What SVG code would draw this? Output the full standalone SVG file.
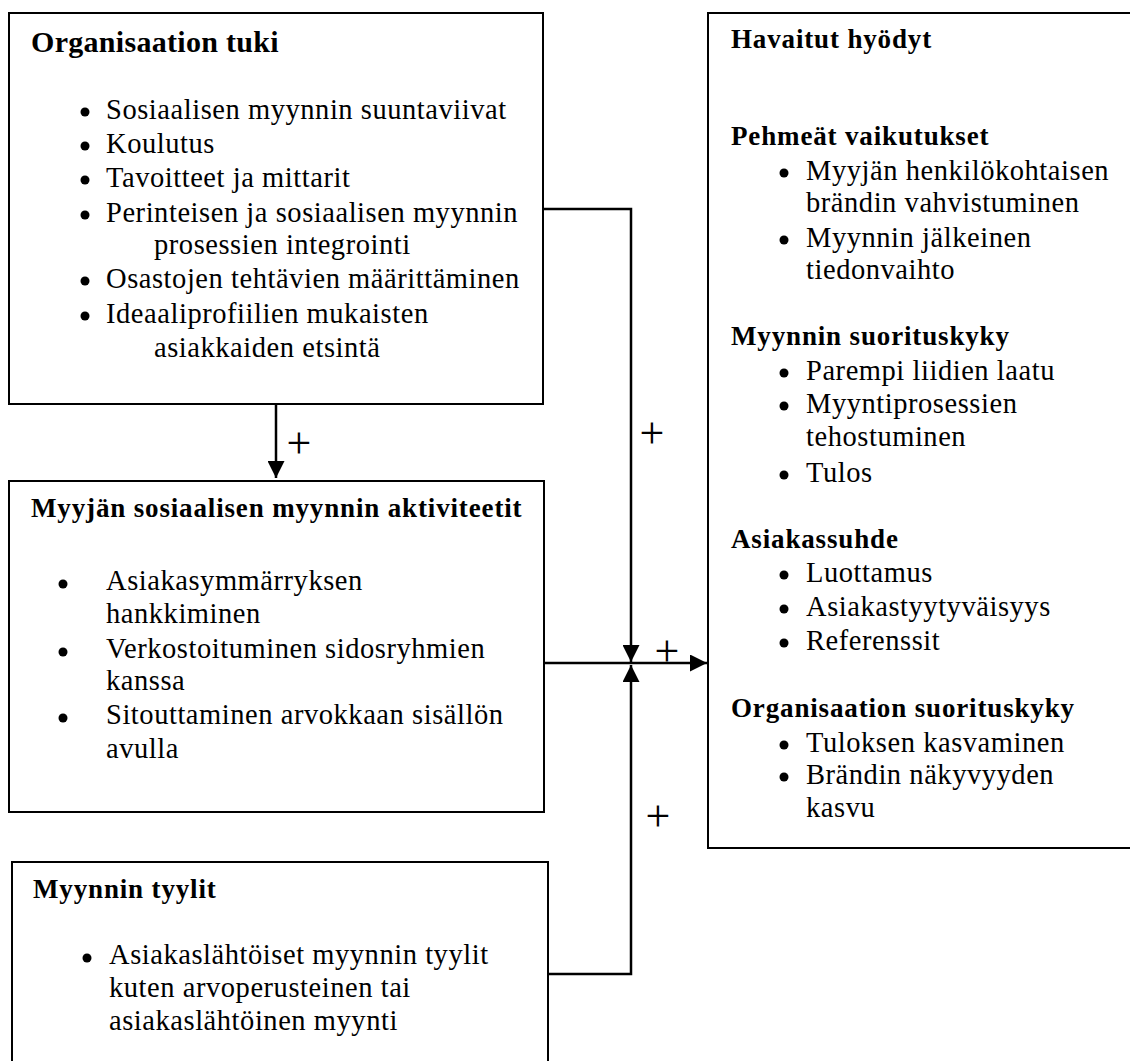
<svg xmlns="http://www.w3.org/2000/svg" width="1130" height="1061" viewBox="0 0 1130 1061">
<style>
  .box { fill: #fff; stroke: #000; stroke-width: 2; }
  .t { font-family: "Liberation Serif", serif; font-size: 28.5px; letter-spacing: 0.55px; fill: #000; }
  .h { font-family: "Liberation Serif", serif; font-size: 27px; font-weight: bold; letter-spacing: 0.85px; fill: #000; }
  .h1 { font-family: "Liberation Serif", serif; font-size: 30px; font-weight: bold; letter-spacing: 0.3px; fill: #000; }
  .plus { font-family: "Liberation Serif", serif; font-size: 44px; fill: #000; text-anchor: middle; }
  .con { fill: none; stroke: #000; stroke-width: 2.5; }
  .b { fill: #000; }
</style>
<defs>
  <marker id="arr" markerUnits="userSpaceOnUse" markerWidth="17" markerHeight="17" viewBox="0 0 16 16" refX="16" refY="8" orient="auto">
    <path d="M0,0 L16,8 L0,16 z" fill="#000"/>
  </marker>
</defs>
<rect width="1130" height="1061" fill="#fff"/>

<g id="connectors">
  <path class="con" d="M276,404 V478" marker-end="url(#arr)"/>
  <path class="con" d="M543,209 H631 V662" marker-end="url(#arr)"/>
  <path class="con" d="M544,663 H707" marker-end="url(#arr)"/>
  <path class="con" d="M548,974 H631 V665" marker-end="url(#arr)"/>
  <text class="plus" x="299" y="458">+</text>
  <text class="plus" x="652" y="448">+</text>
  <text class="plus" x="667" y="666">+</text>
  <text class="plus" x="658" y="831">+</text>
</g>

<g id="node-organisaation-tuki">
  <rect class="box" x="9" y="13" width="534" height="391"/>
  <text class="h1" x="31" y="52">Organisaation tuki</text>
  <circle class="b" cx="85" cy="112" r="4.5"/>
  <text class="t" x="106" y="119">Sosiaalisen myynnin suuntaviivat</text>
  <circle class="b" cx="85" cy="146" r="4.5"/>
  <text class="t" x="106" y="153">Koulutus</text>
  <circle class="b" cx="85" cy="180" r="4.5"/>
  <text class="t" x="106" y="187">Tavoitteet ja mittarit</text>
  <circle class="b" cx="85" cy="215" r="4.5"/>
  <text class="t" x="106" y="222">Perinteisen ja sosiaalisen myynnin</text>
  <text class="t" x="154" y="254">prosessien integrointi</text>
  <circle class="b" cx="85" cy="281" r="4.5"/>
  <text class="t" x="106" y="288">Osastojen tehtävien määrittäminen</text>
  <circle class="b" cx="85" cy="316" r="4.5"/>
  <text class="t" x="106" y="323">Ideaaliprofiilien mukaisten</text>
  <text class="t" x="154" y="357">asiakkaiden etsintä</text>
</g>

<g id="node-aktiviteetit">
  <rect class="box" x="9" y="481" width="535" height="331"/>
  <text class="h" x="31" y="517">Myyjän sosiaalisen myynnin aktiviteetit</text>
  <circle class="b" cx="63" cy="584" r="4.5"/>
  <text class="t" x="106" y="590">Asiakasymmärryksen</text>
  <text class="t" x="106" y="623">hankkiminen</text>
  <circle class="b" cx="63" cy="652" r="4.5"/>
  <text class="t" x="106" y="658">Verkostoituminen sidosryhmien</text>
  <text class="t" x="106" y="690">kanssa</text>
  <circle class="b" cx="63" cy="718" r="4.5"/>
  <text class="t" x="106" y="724">Sitouttaminen arvokkaan sisällön</text>
  <text class="t" x="106" y="758">avulla</text>
</g>

<g id="node-myynnin-tyylit">
  <rect class="box" x="12" y="862" width="536" height="220"/>
  <text class="h" x="33" y="898">Myynnin tyylit</text>
  <circle class="b" cx="87" cy="958" r="4.5"/>
  <text class="t" x="109" y="964">Asiakaslähtöiset myynnin tyylit</text>
  <text class="t" x="109" y="997">kuten arvoperusteinen tai</text>
  <text class="t" x="109" y="1030">asiakaslähtöinen myynti</text>
</g>

<g id="node-havaitut-hyodyt">
  <rect class="box" x="708" y="13" width="440" height="835"/>
  <text class="h" x="731" y="48">Havaitut hyödyt</text>
  <text class="h" x="731" y="145">Pehmeät vaikutukset</text>
  <circle class="b" cx="784" cy="173" r="4.5"/>
  <text class="t" x="806" y="180">Myyjän henkilökohtaisen</text>
  <text class="t" x="806" y="212">brändin vahvistuminen</text>
  <circle class="b" cx="784" cy="240" r="4.5"/>
  <text class="t" x="806" y="247">Myynnin jälkeinen</text>
  <text class="t" x="806" y="279">tiedonvaihto</text>
  <text class="h" x="731" y="345">Myynnin suorituskyky</text>
  <circle class="b" cx="784" cy="373" r="4.5"/>
  <text class="t" x="806" y="380">Parempi liidien laatu</text>
  <circle class="b" cx="784" cy="406" r="4.5"/>
  <text class="t" x="806" y="413">Myyntiprosessien</text>
  <text class="t" x="806" y="446">tehostuminen</text>
  <circle class="b" cx="784" cy="475" r="4.5"/>
  <text class="t" x="806" y="482">Tulos</text>
  <text class="h" x="731" y="548">Asiakassuhde</text>
  <circle class="b" cx="784" cy="575" r="4.5"/>
  <text class="t" x="806" y="582">Luottamus</text>
  <circle class="b" cx="784" cy="609" r="4.5"/>
  <text class="t" x="806" y="616">Asiakastyytyväisyys</text>
  <circle class="b" cx="784" cy="643" r="4.5"/>
  <text class="t" x="806" y="650">Referenssit</text>
  <text class="h" x="731" y="717">Organisaation suorituskyky</text>
  <circle class="b" cx="784" cy="745" r="4.5"/>
  <text class="t" x="806" y="752">Tuloksen kasvaminen</text>
  <circle class="b" cx="784" cy="777" r="4.5"/>
  <text class="t" x="806" y="784">Brändin näkyvyyden</text>
  <text class="t" x="806" y="817">kasvu</text>
</g>
</svg>
